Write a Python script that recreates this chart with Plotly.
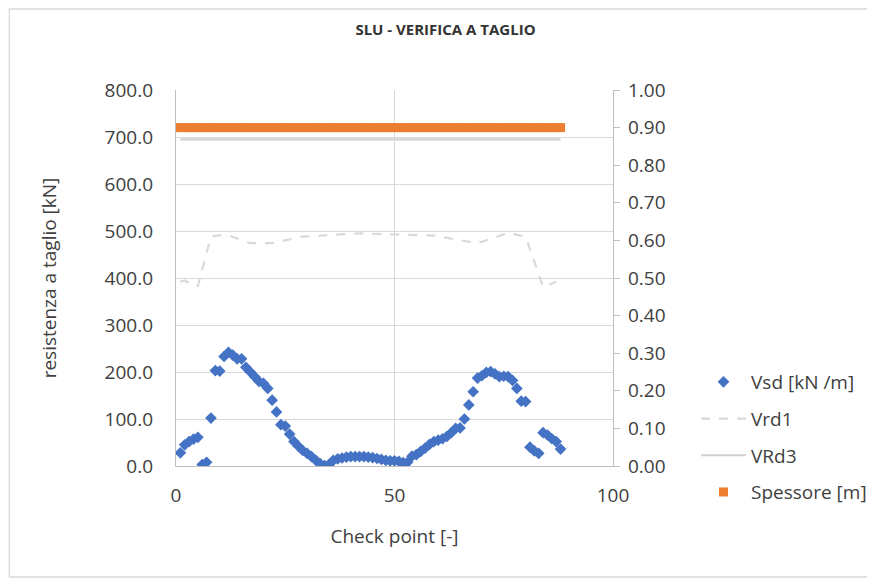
import plotly.graph_objects as go

# Check points
check_x = list(range(1, 89))

# Vsd [kN /m] values
vsd = [28, 45, 52, 57, 61, 3, 8, 102, 203, 202,
       233, 242, 236, 228, 228, 210, 200, 190, 180, 176,
       165, 140, 115, 88, 85, 68, 52, 42, 33, 27,
       20, 12, 5, 1, 3, 12, 15, 17, 19, 20,
       20, 20, 20, 19, 18, 16, 14, 12, 11, 11,
       10, 7, 8, 21, 24, 31, 38, 46, 52, 55,
       58, 63, 71, 80, 81, 100, 130, 158, 187, 192,
       199, 201, 196, 190, 191, 190, 182, 165, 138, 137,
       40, 32, 27, 71, 66, 58, 52, 36]

# Vrd1 breakpoints
vrd1_x = [1, 2, 4, 5, 8, 10, 12, 17, 22, 29, 42, 50, 59, 69, 76, 80, 84, 87]
vrd1_y = [392, 395, 383, 383, 488, 491, 491, 474, 474, 488, 495, 493, 490, 474, 496, 488, 381, 392]

# VRd3 (constant)
vrd3 = [695] * len(check_x)

# Spessore [m] (secondary axis)
spessore = [0.90] * len(check_x)

FONT = "Open Sans"
GRID = "#D9D9D9"
AXIS = "#BFBFBF"
TXT = "#404040"
FS = 19

OFF = 8  # page body margin
W_FIG, H_FIG = 875, 579
PL, PR, PT, PB = 176, 614, 90, 466   # target plot area in screen px
L, R, T, B = PL - OFF, W_FIG - PR + OFF, PT - OFF, H_FIG - PB + OFF
W, H = PR - PL, PB - PT

def px(x):
    return (x - PL) / W

def py(y):
    return (PB - y) / H

fig = go.Figure()
fig.add_trace(go.Scatter(x=check_x, y=vsd, mode="markers", name="Vsd [kN /m]",
                         legendgroup="a",
                         marker=dict(symbol="diamond", size=9, color="#4472C4")))
fig.add_trace(go.Scatter(x=vrd1_x, y=vrd1_y, mode="lines", name="Vrd1",
                         legendgroup="b",
                         line=dict(color="#D9D9D9", width=2.2, dash="dash")))
fig.add_trace(go.Scatter(x=check_x, y=vrd3, mode="lines", name="VRd3",
                         legendgroup="c",
                         line=dict(color="#D0D0D0", width=2.2)))
fig.add_trace(go.Scatter(x=check_x, y=spessore, mode="markers", name="Spessore [m]",
                         legendgroup="d", yaxis="y2",
                         marker=dict(symbol="square", size=9, color="#ED7D31")))

fig.update_layout(
    width=W_FIG, height=H_FIG,
    margin=dict(l=L, r=R, t=T, b=B),
    paper_bgcolor="white", plot_bgcolor="white",
    font=dict(family=FONT, size=FS, color=TXT),
    title=dict(text="<b>SLU - VERIFICA A TAGLIO</b>", x=0.5, xanchor="center",
               y=1 - (30 - OFF) / H_FIG, yanchor="middle",
               font=dict(family=FONT, size=15, color="#333333")),
    xaxis=dict(range=[0, 100], dtick=50, tick0=0, showgrid=True, gridcolor=GRID,
               gridwidth=1.3, zeroline=False, showline=True, linecolor=AXIS, linewidth=1.3,
               ticks="", ticklabelstandoff=12, tickfont=dict(size=FS),
               title=dict(text="Check point [-]", standoff=22, font=dict(size=FS))),
    yaxis=dict(range=[0, 800], dtick=100, tickformat=".1f", showgrid=True, gridcolor=GRID,
               gridwidth=1.3, zeroline=False, showline=True, linecolor=AXIS, linewidth=1.3,
               ticks="", ticklabelstandoff=18, tickfont=dict(size=FS),
               title=dict(text="resistenza a taglio [kN]", standoff=42, font=dict(size=FS))),
    yaxis2=dict(range=[0, 1], dtick=0.1, tickformat=".2f", overlaying="y", side="right",
                showgrid=False, zeroline=False, showline=True, linecolor=AXIS, linewidth=1.3,
                ticks="outside", ticklen=6, tickcolor=AXIS, tickwidth=1.3,
                ticklabelstandoff=4, tickfont=dict(size=FS)),
    legend=dict(x=px(696), y=py(363), xanchor="left", yanchor="top",
                bgcolor="rgba(0,0,0,0)", font=dict(size=FS),
                itemwidth=45, tracegroupgap=9),
    showlegend=True,
)

fig.add_shape(type="rect", xref="paper", yref="paper",
              x0=px(9), x1=px(874), y0=py(577), y1=py(9),
              line=dict(color="#D9D9D9", width=1.3), fillcolor="rgba(0,0,0,0)", layer="below")

fig.write_html("out.html")
